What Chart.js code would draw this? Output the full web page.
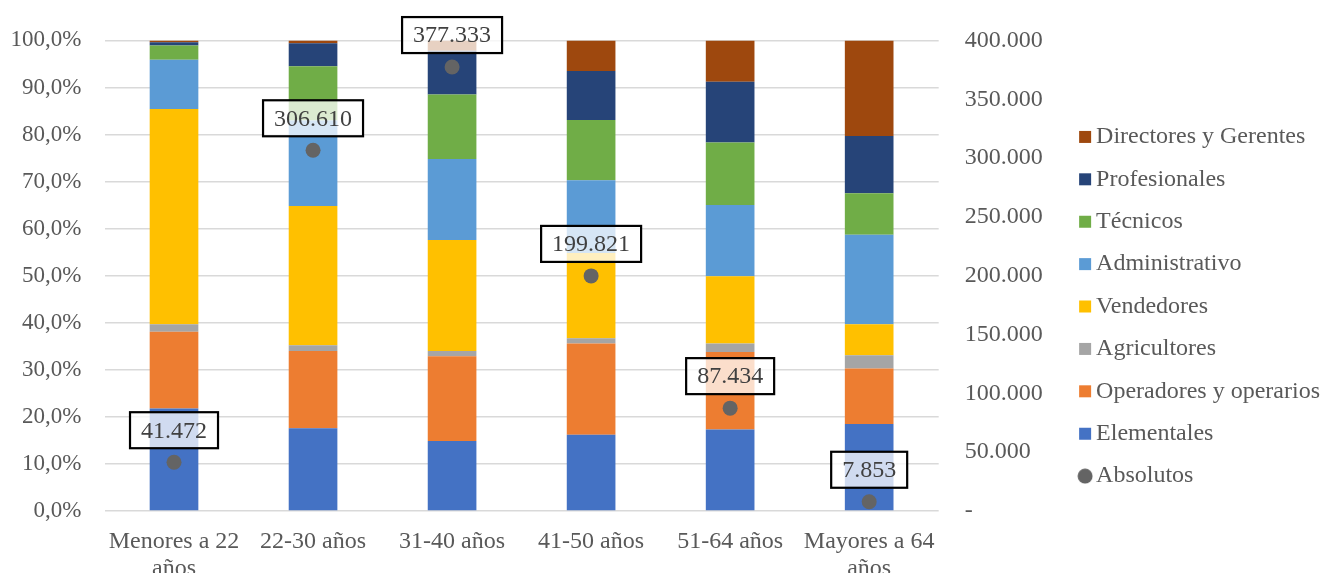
<!DOCTYPE html>
<html>
<head>
<meta charset="utf-8">
<script src="https://cdn.jsdelivr.net/npm/chart.js@4"></script>
<style>
  html, body { margin: 0; padding: 0; background: #fff; overflow: hidden; }
  #wrap { width: 1322px; height: 573px; }
</style>
</head>
<body>
<div id="wrap"><canvas id="chart"></canvas></div>
<script>
const categories = [['Menores a 22', 'años'], '22-30 años', '31-40 años', '41-50 años', '51-64 años', ['Mayores a 64', 'años']];

// percent share of each group (bottom to top of the stack)
const elementales = [21.8, 17.6, 14.9, 16.2, 17.3, 18.5];
const operadores = [16.3, 16.4, 18.0, 19.4, 16.5, 11.8];
const agricultores = [1.6, 1.2, 1.1, 1.1, 1.8, 2.8];
const vendedores = [45.7, 29.6, 23.6, 18.1, 14.3, 6.6];
const administrativo = [10.5, 18.2, 17.2, 15.5, 15.1, 19.0];
const tecnicos = [3.0, 11.5, 13.7, 12.8, 13.3, 8.8];
const profesionales = [0.7, 4.9, 9.3, 10.4, 12.9, 12.2];
const directores = [0.4, 0.6, 2.2, 6.5, 8.8, 20.3];

// absolute totals, right axis
const absolutos = [41472, 306610, 377333, 199821, 87434, 7853];

const percentTicks = [0, 10, 20, 30, 40, 50, 60, 70, 80, 90, 100];
const absTicks = [0, 50000, 100000, 150000, 200000, 250000, 300000, 350000, 400000];

const SERIF = '"Liberation Serif", "Times New Roman", serif';
const GREY = '#595959';
const DOT = '#646464';

const thousands = (v) => String(Math.round(v)).replace(/\B(?=(\d{3})+(?!\d))/g, '.');

// legend markers, drawn shifted right so they sit close to the text like Excel does
function marker(color, round) {
    const c = document.createElement('canvas');
    c.width = 30;
    c.height = 16;
    const g = c.getContext('2d');
    g.fillStyle = color;
    if (round) {
        g.beginPath();
        g.arc(22, 8, 7.5, 0, Math.PI * 2);
        g.fill();
    } else {
        g.fillRect(16, 2, 12, 12);
    }
    return c;
}

// boxed value labels above the "Absolutos" dots
const boxLabels = {
    id: 'boxLabels',
    afterDatasetsDraw(chart) {
        const ctx = chart.ctx;
        const meta = chart.getDatasetMeta(0);
        ctx.save();
        ctx.font = '24px ' + SERIF;
        ctx.textAlign = 'center';
        ctx.textBaseline = 'middle';
        meta.data.forEach((pt, i) => {
            const text = thousands(absolutos[i]);
            const w = ctx.measureText(text).width + 22;
            const h = 36;
            const x = pt.x - w / 2;
            const y = pt.y - 14 - h;
            ctx.fillStyle = 'rgba(255,255,255,0.75)';
            ctx.fillRect(x, y, w, h);
            ctx.lineWidth = 2.2;
            ctx.strokeStyle = '#000';
            ctx.strokeRect(x, y, w, h);
            ctx.fillStyle = '#404040';
            ctx.fillText(text, pt.x, y + h / 2 + 1);
        });
        ctx.restore();
    }
};

const bar = (label, data, color) => ({
    type: 'bar',
    label: label,
    data: data,
    backgroundColor: color,
    yAxisID: 'y',
    order: 1,
    barPercentage: 0.35,
    categoryPercentage: 1
});

new Chart(document.getElementById('chart'), {
    data: {
        labels: categories,
        datasets: [
            {
                type: 'line',
                label: 'Absolutos',
                data: absolutos,
                yAxisID: 'y1',
                showLine: false,
                pointRadius: 7.5,
                pointHoverRadius: 7.5,
                pointBackgroundColor: DOT,
                pointBorderWidth: 0,
                borderColor: DOT,
                backgroundColor: DOT,
                order: 0
            },
            bar('Elementales', elementales, '#4472C4'),
            bar('Operadores y operarios', operadores, '#ED7D31'),
            bar('Agricultores', agricultores, '#A5A5A5'),
            bar('Vendedores', vendedores, '#FFC000'),
            bar('Administrativo', administrativo, '#5B9BD5'),
            bar('Técnicos', tecnicos, '#70AD47'),
            bar('Profesionales', profesionales, '#264478'),
            bar('Directores y Gerentes', directores, '#9E480E')
        ]
    },
    options: {
        responsive: true,
        maintainAspectRatio: false,
        animation: false,
        layout: { padding: { top: 40, right: -8, bottom: 0, left: 0 } },
        plugins: {
            tooltip: { enabled: false },
            legend: {
                position: 'right',
                maxWidth: 400,
                labels: {
                    font: { family: SERIF, size: 24 },
                    color: GREY,
                    usePointStyle: true,
                    boxWidth: 12,
                    boxHeight: 12,
                    padding: 18.4,
                    generateLabels(chart) {
                        const items = Chart.defaults.plugins.legend.labels.generateLabels(chart);
                        items.forEach((it) => {
                            const ds = chart.data.datasets[it.datasetIndex];
                            it.pointStyle = marker(ds.backgroundColor, it.datasetIndex === 0);
                            it.lineWidth = 0;
                            it.strokeStyle = 'transparent';
                        });
                        // bars top-down first, dot series last
                        return items
                            .filter((it) => it.datasetIndex !== 0)
                            .sort((a, b) => b.datasetIndex - a.datasetIndex)
                            .concat(items.filter((it) => it.datasetIndex === 0));
                    }
                }
            }
        },
        scales: {
            x: {
                stacked: true,
                grid: { display: false, drawTicks: false },
                border: { display: false },
                ticks: {
                    font: { family: SERIF, size: 24, lineHeight: 1.12 },
                    color: GREY,
                    padding: 17,
                    maxRotation: 0,
                    autoSkip: false
                },
                afterFit(scale) { scale.height = 62; }
            },
            y: {
                stacked: true,
                position: 'left',
                min: 0,
                max: 100,
                afterBuildTicks(scale) { scale.ticks = percentTicks.map((v) => ({ value: v })); },
                grid: { color: '#d9d9d9', lineWidth: 1.5, drawTicks: false },
                border: { display: false },
                ticks: {
                    font: { family: SERIF, size: 23 },
                    color: GREY,
                    padding: 23,
                    callback: (v) => v.toFixed(1).replace('.', ',') + '%'
                },
                afterFit(scale) { scale.width = 104.5; }
            },
            y1: {
                position: 'right',
                min: 0,
                max: 400000,
                afterBuildTicks(scale) { scale.ticks = absTicks.map((v) => ({ value: v })); },
                grid: { display: false, drawTicks: false },
                border: { display: false },
                ticks: {
                    font: { family: SERIF, size: 24 },
                    color: GREY,
                    padding: 26,
                    callback: (v) => (v === 0 ? '-' : thousands(v))
                },
                afterFit(scale) { scale.width = 115; }
            }
        }
    },
    plugins: [boxLabels]
});
</script>
</body>
</html>
